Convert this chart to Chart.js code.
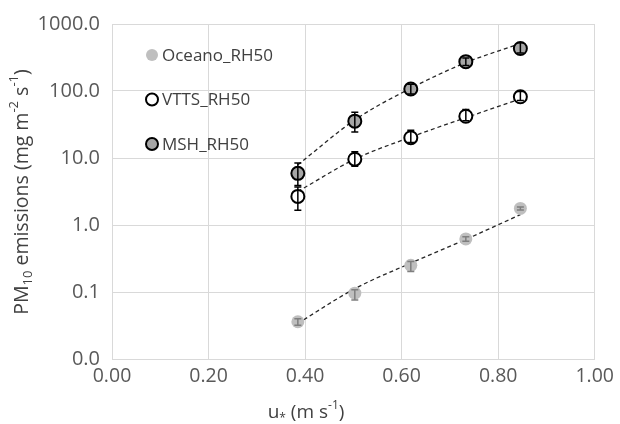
<!DOCTYPE html>
<html>
<head>
<meta charset="utf-8">
<script src="https://cdn.jsdelivr.net/npm/chart.js@4.4.1/dist/chart.umd.min.js"></script>
<style>
  html, body { margin: 0; padding: 0; background: #fff; }
  #wrap { width: 620px; height: 424px; }
</style>
</head>
<body>
<div id="wrap"><canvas id="pmChart"></canvas></div>
<script>
// friction velocity of each run (m/s)
const uStar = [0.385, 0.503, 0.619, 0.733, 0.846];

// PM10 emissions (mg m-2 s-1)
const oceano = [0.036, 0.096, 0.25, 0.62, 1.77];
const vtts = [2.67, 9.6, 20.1, 42, 82];
const msh = [5.9, 35.5, 107, 274, 431];

// error bar ranges
const oceanoLow = [0.032, 0.076, 0.202, 0.57, 1.68];
const oceanoHigh = [0.040, 0.108, 0.285, 0.67, 1.86];
const vttsLow = [1.66, 7.5, 17, 36, 72];
const vttsHigh = [3.7, 12.4, 25.9, 52.9, 98];
const mshLow = [3.9, 24.4, 90, 240, 370];
const mshHigh = [8.4, 48, 126, 310, 523];

// dashed trend lines
const oceanoTrend = [0.034, 0.112, 0.27, 0.61, 1.43];
const vttsTrend = [3.16, 9.6, 20.5, 40, 76];
const mshTrend = [7.9, 37, 110, 265, 512];

const xTicks = [0, 0.2, 0.4, 0.6, 0.8, 1.0];
const yTicks = [0.01, 0.1, 1, 10, 100, 1000];

const legendNames = ['Oceano_RH50', 'VTTS_RH50', 'MSH_RH50'];

const FONT = '"Open Sans", "Noto Sans", sans-serif';

function pts(ys) {
    return uStar.map((x, i) => ({ x: x, y: ys[i] }));
}

function trendSet(ys) {
    return {
        data: pts(ys),
        showLine: true,
        borderColor: '#262626',
        borderWidth: 1.3,
        borderDash: [4, 3],
        pointRadius: 0,
        cubicInterpolationMode: 'monotone',
        fill: false,
        order: 10
    };
}

const markerStyles = [
    { fill: '#bfbfbf', border: '#bfbfbf', width: 0, bar: '#7f7f7f' },
    { fill: '#ffffff', border: '#000000', width: 2, bar: '#000000' },
    { fill: '#a6a6a6', border: '#000000', width: 2, bar: '#000000' }
];

function pointSet(ys, st) {
    return {
        data: pts(ys),
        showLine: false,
        pointRadius: 6.5,
        pointBackgroundColor: st.fill,
        pointBorderColor: st.border,
        pointBorderWidth: st.width,
        order: 1
    };
}

// vertical error bars with caps, drawn above the markers
const errorBars = {
    id: 'errorBars',
    afterDatasetsDraw(chart) {
        const ctx = chart.ctx;
        const xs = chart.scales.x, ys = chart.scales.y;
        const sets = [[oceanoLow, oceanoHigh], [vttsLow, vttsHigh], [mshLow, mshHigh]];
        ctx.save();
        sets.forEach((s, k) => {
            ctx.strokeStyle = markerStyles[k].bar;
            ctx.lineWidth = 1.5;
            uStar.forEach((u, i) => {
                const px = xs.getPixelForValue(u);
                const y1 = ys.getPixelForValue(s[0][i]);
                const y2 = ys.getPixelForValue(s[1][i]);
                ctx.beginPath();
                ctx.moveTo(px, y1); ctx.lineTo(px, y2);
                ctx.moveTo(px - 3.5, y1); ctx.lineTo(px + 3.5, y1);
                ctx.moveTo(px - 3.5, y2); ctx.lineTo(px + 3.5, y2);
                ctx.stroke();
            });
        });
        ctx.restore();
    }
};

// legend inside the plot area and axis titles with sub/superscripts
const decorations = {
    id: 'decorations',
    afterDraw(chart) {
        const ctx = chart.ctx;
        const area = chart.chartArea;
        ctx.save();

        // legend
        legendNames.forEach((name, k) => {
            const st = markerStyles[k];
            const cx = area.left + 40;
            const cy = area.top + 31 + k * 44.5;
            ctx.beginPath();
            ctx.arc(cx, cy, 6, 0, Math.PI * 2);
            ctx.fillStyle = st.fill;
            ctx.fill();
            if (st.width) {
                ctx.lineWidth = st.width;
                ctx.strokeStyle = st.border;
                ctx.stroke();
            }
            ctx.fillStyle = '#404040';
            ctx.font = '17px ' + FONT;
            ctx.textAlign = 'left';
            ctx.textBaseline = 'middle';
            ctx.fillText(name, cx + 10, cy + 1);
        });

        // rich text helper: parts = [[text, 'n'|'sub'|'sup'], ...]
        function rich(parts, size) {
            const small = Math.round(size * 0.65);
            let w = 0;
            parts.forEach(p => {
                ctx.font = (p[1] === 'n' ? size : small) + 'px ' + FONT;
                p.w = ctx.measureText(p[0]).width;
                w += p.w;
            });
            let x = -w / 2;
            parts.forEach(p => {
                ctx.font = (p[1] === 'n' ? size : small) + 'px ' + FONT;
                let dy = 0;
                if (p[1] === 'sub') dy = size * 0.3;
                if (p[1] === 'sup') dy = -size * 0.38;
                ctx.fillText(p[0], x, dy);
                x += p.w;
            });
        }

        ctx.fillStyle = '#404040';
        ctx.textAlign = 'left';
        ctx.textBaseline = 'middle';

        // y title
        ctx.save();
        ctx.translate(22, 192);
        ctx.rotate(-Math.PI / 2);
        rich([['PM', 'n'], ['10', 'sub'], [' emissions (mg m', 'n'], ['-2', 'sup'], [' s', 'n'], ['-1', 'sup'], [')', 'n']], 19.5);
        ctx.restore();

        // x title
        ctx.save();
        ctx.translate(306, 413);
        rich([['u', 'n'], ['*', 'sub'], [' (m s', 'n'], ['-1', 'sup'], [')', 'n']], 19);
        ctx.restore();

        ctx.restore();
    }
};

new Chart(document.getElementById('pmChart'), {
    type: 'scatter',
    data: {
        datasets: [
            trendSet(oceanoTrend),
            trendSet(vttsTrend),
            trendSet(mshTrend),
            pointSet(oceano, markerStyles[0]),
            pointSet(vtts, markerStyles[1]),
            pointSet(msh, markerStyles[2])
        ]
    },
    options: {
        responsive: true,
        maintainAspectRatio: false,
        animation: false,
        layout: {
            padding: { top: 21, right: 22, left: 0, bottom: 0 }
        },
        plugins: {
            legend: { display: false },
            tooltip: { enabled: false }
        },
        scales: {
            x: {
                type: 'linear',
                min: 0,
                max: 1,
                afterBuildTicks: (scale) => { scale.ticks = xTicks.map(v => ({ value: v })); },
                afterFit: (scale) => { scale.height = 65; },
                grid: { color: '#d9d9d9', drawTicks: false },
                border: { color: '#d9d9d9' },
                ticks: {
                    padding: 6,
                    color: '#595959',
                    font: { family: FONT, size: 19.5 },
                    maxRotation: 0,
                    callback: (v) => Number(v).toFixed(2)
                }
            },
            y: {
                type: 'logarithmic',
                min: 0.01,
                max: 1000,
                afterBuildTicks: (scale) => { scale.ticks = yTicks.map(v => ({ value: v })); },
                afterFit: (scale) => { scale.width = 112; },
                grid: { color: '#d9d9d9', drawTicks: false },
                border: { color: '#d9d9d9' },
                ticks: {
                    padding: 12,
                    color: '#595959',
                    font: { family: FONT, size: 20 },
                    callback: (v) => Number(v).toFixed(1)
                }
            }
        }
    },
    plugins: [errorBars, decorations]
});
</script>
</body>
</html>
